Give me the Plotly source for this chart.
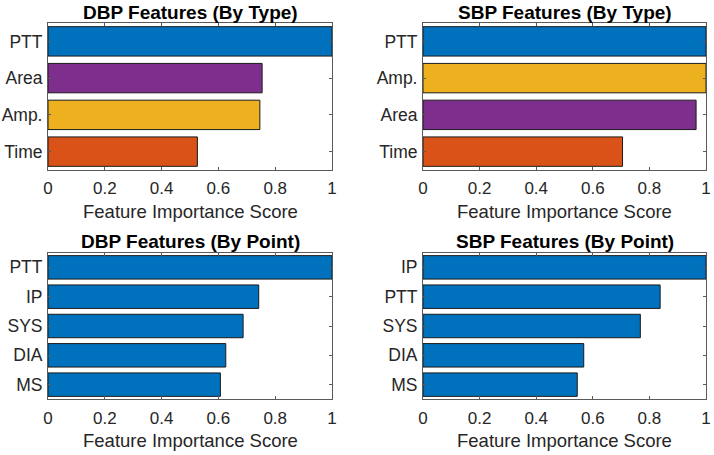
import plotly.graph_objects as go

# ---- data ----
dbp_type_labels = ["PTT", "Area", "Amp.", "Time"]
dbp_type_values = [1.0, 0.754, 0.746, 0.526]

sbp_type_labels = ["PTT", "Amp.", "Area", "Time"]
sbp_type_values = [1.0, 1.0, 0.965, 0.705]

dbp_point_labels = ["PTT", "IP", "SYS", "DIA", "MS"]
dbp_point_values = [1.0, 0.742, 0.687, 0.626, 0.607]

sbp_point_labels = ["IP", "PTT", "SYS", "DIA", "MS"]
sbp_point_values = [1.0, 0.838, 0.768, 0.568, 0.545]

titles = ["DBP Features (By Type)", "SBP Features (By Type)",
          "DBP Features (By Point)", "SBP Features (By Point)"]
x_title = "Feature Importance Score"
x_ticks = [0, 0.2, 0.4, 0.6, 0.8, 1]
x_ticktext = ["0", "0.2", "0.4", "0.6", "0.8", "1"]

type_colors = {"PTT": "#0072BD", "Area": "#7E2F8E", "Amp.": "#EDB120", "Time": "#D95319"}
point_color = "#0072BD"

FONT = "Liberation Sans, Arial, Helvetica, sans-serif"
TXT = "#262626"
AX = "#5a5a5a"

W, H = 714, 455
# axes boxes in window pixels (left, right, top, bottom)
boxes = [
    (48, 332, 23, 170),
    (423, 706, 23, 170),
    (48, 332, 252.7, 399.3),
    (423, 706, 252.7, 399.3),
]

panels = [
    (dbp_type_labels, dbp_type_values, [type_colors[c] for c in dbp_type_labels]),
    (sbp_type_labels, sbp_type_values, [type_colors[c] for c in sbp_type_labels]),
    (dbp_point_labels, dbp_point_values, [point_color] * len(dbp_point_labels)),
    (sbp_point_labels, sbp_point_values, [point_color] * len(sbp_point_labels)),
]

fig = go.Figure()
annotations = []
for i, ((labels, vals, cols), box, title) in enumerate(zip(panels, boxes, titles)):
    l, r, t, b = box
    n = i + 1
    xa = "x" if n == 1 else f"x{n}"
    ya = "y" if n == 1 else f"y{n}"
    fig.add_trace(go.Bar(
        x=vals, y=labels, orientation="h", width=0.8,
        marker=dict(color=cols, line=dict(color="#1a1a1a", width=1)),
        xaxis=xa, yaxis=ya, showlegend=False, hoverinfo="x+y",
    ))
    xkey = "xaxis" if n == 1 else f"xaxis{n}"
    ykey = "yaxis" if n == 1 else f"yaxis{n}"
    fig.update_layout(**{
        xkey: dict(
            domain=[l / W, r / W], anchor=ya, range=[0, 1],
            tickvals=x_ticks, ticktext=x_ticktext,
            ticks="inside", ticklen=3, tickcolor=AX, mirror="ticks",
            showline=True, linecolor=AX, linewidth=1,
            showgrid=False, zeroline=False, automargin=False,
            tickfont=dict(family=FONT, size=17, color=TXT),
            ticklabelstandoff=3,
        ),
        ykey: dict(
            domain=[1 - b / H, 1 - t / H], anchor=xa,
            type="category", categoryorder="array", categoryarray=labels[::-1],
            range=[-0.5, len(labels) - 0.5],
            ticks="inside", ticklen=3, tickcolor=AX, mirror="ticks",
            showline=True, linecolor=AX, linewidth=1,
            showgrid=False, zeroline=False, automargin=False,
            tickfont=dict(family=FONT, size=17.5, color=TXT),
            ticklabelstandoff=1,
        ),
    })
    cx = (l + r) / 2 / W
    annotations.append(dict(
        text=f"<b>{title}</b>", x=cx, y=1 - (t - 11) / H, xref="paper", yref="paper",
        xanchor="center", yanchor="middle", showarrow=False,
        font=dict(family=FONT, size=19, color="#000000"),
    ))
    annotations.append(dict(
        text=x_title, x=cx, y=1 - (b + 41) / H, xref="paper", yref="paper",
        xanchor="center", yanchor="middle", showarrow=False,
        font=dict(family=FONT, size=18.5, color=TXT),
    ))

fig.update_layout(
    width=W, height=H,
    margin=dict(l=0, r=0, t=0, b=0, autoexpand=False),
    paper_bgcolor="white", plot_bgcolor="white",
    annotations=annotations, bargap=0.2,
)

fig.write_html("out.html", config={"displayModeBar": False},
               post_script="document.body.style.margin='0';")
